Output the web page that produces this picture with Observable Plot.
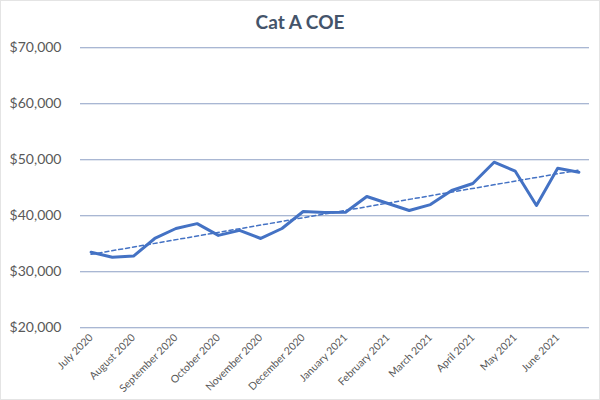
<!DOCTYPE html>
<html>
<head>
<meta charset="utf-8">
<script src="https://cdn.jsdelivr.net/npm/d3@7"></script>
<script src="https://cdn.jsdelivr.net/npm/@observablehq/plot@0.6"></script>
<style>
  html, body { margin: 0; padding: 0; background: #fff; }
  #wrap { width: 600px; height: 400px; position: relative; overflow: hidden; font-family: Lato, "Open Sans", sans-serif; }
  #title { height: 35px; box-sizing: border-box; padding-top: 12px; text-align: center; font-weight: bold; font-size: 19px; line-height: 1; color: #44546A; }
  #frame { position: absolute; inset: 0; border: 1px solid #e4e4e4; pointer-events: none; }
</style>
</head>
<body>
<div id="wrap">
  <div id="title">Cat A COE</div>
  <div id="chart"></div>
  <div id="frame"></div>
</div>
<script>
const months = ["July 2020", "August 2020", "September 2020", "October 2020", "November 2020", "December 2020",
                "January 2021", "February 2021", "March 2021", "April 2021", "May 2021", "June 2021"];
const coe = [33500, 32600, 32800, 35950, 37730, 38600, 36500, 37400, 35950, 37730, 40770, 40590,
             40640, 43450, 42200, 40950, 42000, 44520, 45770, 49570, 47960, 41840, 48500, 47790];
const yTicks = [20000, 30000, 40000, 50000, 60000, 70000];

const data = coe.map((v, i) => ({i, v}));
const monthTicks = months.map((m, k) => k * 2);
const fmt = d3.format(",");

const chart = Plot.plot({
  width: 600,
  height: 365,
  marginTop: 12.3,
  marginBottom: 72.7,
  marginLeft: 80,
  marginRight: 11,
  style: {fontFamily: "Lato, 'Open Sans', sans-serif", background: "white"},
  x: {domain: [-0.5, 23.5], label: null},
  y: {domain: [20000, 70000], label: null},
  marks: [
    Plot.ruleY(yTicks, {stroke: "#8C9FC4", strokeWidth: 1.1}),
    Plot.axisY({ticks: yTicks, tickFormat: d => "$" + fmt(d), tickSize: 0, tickPadding: 19, fontSize: 14, fill: "#595959", label: null}),
    Plot.axisX({ticks: monthTicks, tickFormat: d => months[d / 2], tickRotate: -45, tickSize: 0, tickPadding: 8, fontSize: 10.5, fill: "#595959", label: null}),
    Plot.linearRegressionY(data, {x: "i", y: "v", ci: 0, stroke: "#4472C4", strokeWidth: 1.5, strokeDasharray: "4,3"}),
    Plot.line(data, {x: "i", y: "v", stroke: "#4472C4", strokeWidth: 3, strokeLinejoin: "round", strokeLinecap: "round"})
  ]
});
document.getElementById("chart").appendChild(chart);
</script>
</body>
</html>
